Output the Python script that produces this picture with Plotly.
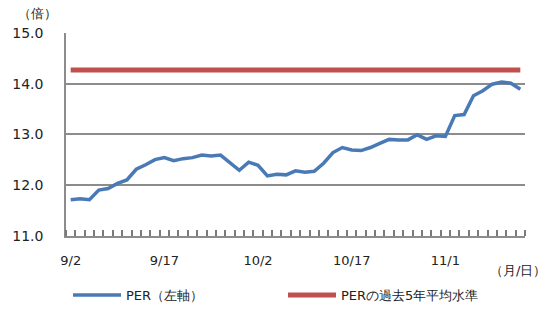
import plotly.graph_objects as go

dates = ["9/2","9/3","9/4","9/5","9/6","9/9","9/10","9/11","9/12","9/13",
         "9/17","9/18","9/19","9/20","9/24","9/25","9/26","9/27","9/30","10/1",
         "10/2","10/3","10/4","10/7","10/8","10/9","10/10","10/11","10/15","10/16",
         "10/17","10/18","10/21","10/23","10/24","10/25","10/28","10/29","10/30","10/31",
         "11/1","11/5","11/6","11/7","11/8","11/11","11/12","11/13","11/14"]
per = [11.71, 11.73, 11.71, 11.90, 11.93, 12.03, 12.10, 12.31, 12.40, 12.50,
       12.54, 12.48, 12.52, 12.54, 12.59, 12.57, 12.59, 12.44, 12.29, 12.45,
       12.39, 12.18, 12.21, 12.20, 12.28, 12.25, 12.27, 12.43, 12.64, 12.74,
       12.69, 12.68, 12.74, 12.82, 12.90, 12.89, 12.89, 12.99, 12.90, 12.97,
       12.96, 13.37, 13.39, 13.76, 13.86, 13.99, 14.03, 14.01, 13.89]
avg5y = 14.27
label_idx = [0, 10, 20, 30, 40]

x = list(range(len(dates)))
GRAY = "#8c8c8c"
TICKGRAY = "#7a7a7a"
FONT = "DejaVu Sans"

fig = go.Figure()
fig.add_trace(go.Scatter(x=x, y=per, mode="lines", name="PER（左軸）",
                         line=dict(color="#4a7ab5", width=3.5), legend="legend"))
fig.add_trace(go.Scatter(x=x, y=[avg5y]*len(x), mode="lines", name="PERの過去5年平均水準",
                         line=dict(color="#c0504d", width=5), legend="legend2"))

leg_common = dict(orientation="h", xref="container", yref="container",
                  xanchor="left", y=1-295/310, yanchor="middle",
                  font=dict(size=13), bgcolor="rgba(0,0,0,0)", itemwidth=48)

fig.update_layout(
    width=550, height=310,
    margin=dict(l=55, r=25, t=33, b=73),
    paper_bgcolor="white", plot_bgcolor="white",
    font=dict(family=FONT, size=13, color="#222"),
    showlegend=True,
    legend=dict(x=68/550, **leg_common),
    legend2=dict(x=283/550, **leg_common),
    xaxis=dict(range=[-0.5, len(x)-0.5], tickmode="array",
               tickvals=label_idx, ticktext=[dates[i] for i in label_idx],
               ticks="", ticklabelstandoff=12,
               showgrid=False, showline=True, linecolor=GRAY, linewidth=1.5,
               zeroline=False, tickfont=dict(size=13),
               minor=dict(tickmode="array", tickvals=[i-0.5 for i in range(len(x)+1)],
                          ticks="inside", ticklen=6, tickcolor=TICKGRAY, tickwidth=1.5,
                          showgrid=False)),
    yaxis=dict(range=[11, 15], dtick=1, tick0=11, tickformat=".1f",
               showgrid=True, gridcolor=GRAY, gridwidth=1.5,
               showline=True, linecolor=GRAY, linewidth=1.5, zeroline=False,
               ticks="outside", ticklen=18, tickcolor="rgba(0,0,0,0)",
               tickfont=dict(size=14)),
    annotations=[
        dict(text="（倍）", xref="paper", yref="paper", x=-0.108, y=1.0,
             yshift=20, xanchor="left", yanchor="middle", showarrow=False,
             font=dict(size=13)),
        dict(text="（月/日）", xref="paper", yref="paper", x=1.05, y=0,
             yshift=-35, xanchor="right", yanchor="middle", showarrow=False,
             font=dict(size=13)),
    ],
)

fig.write_html("out.html")
